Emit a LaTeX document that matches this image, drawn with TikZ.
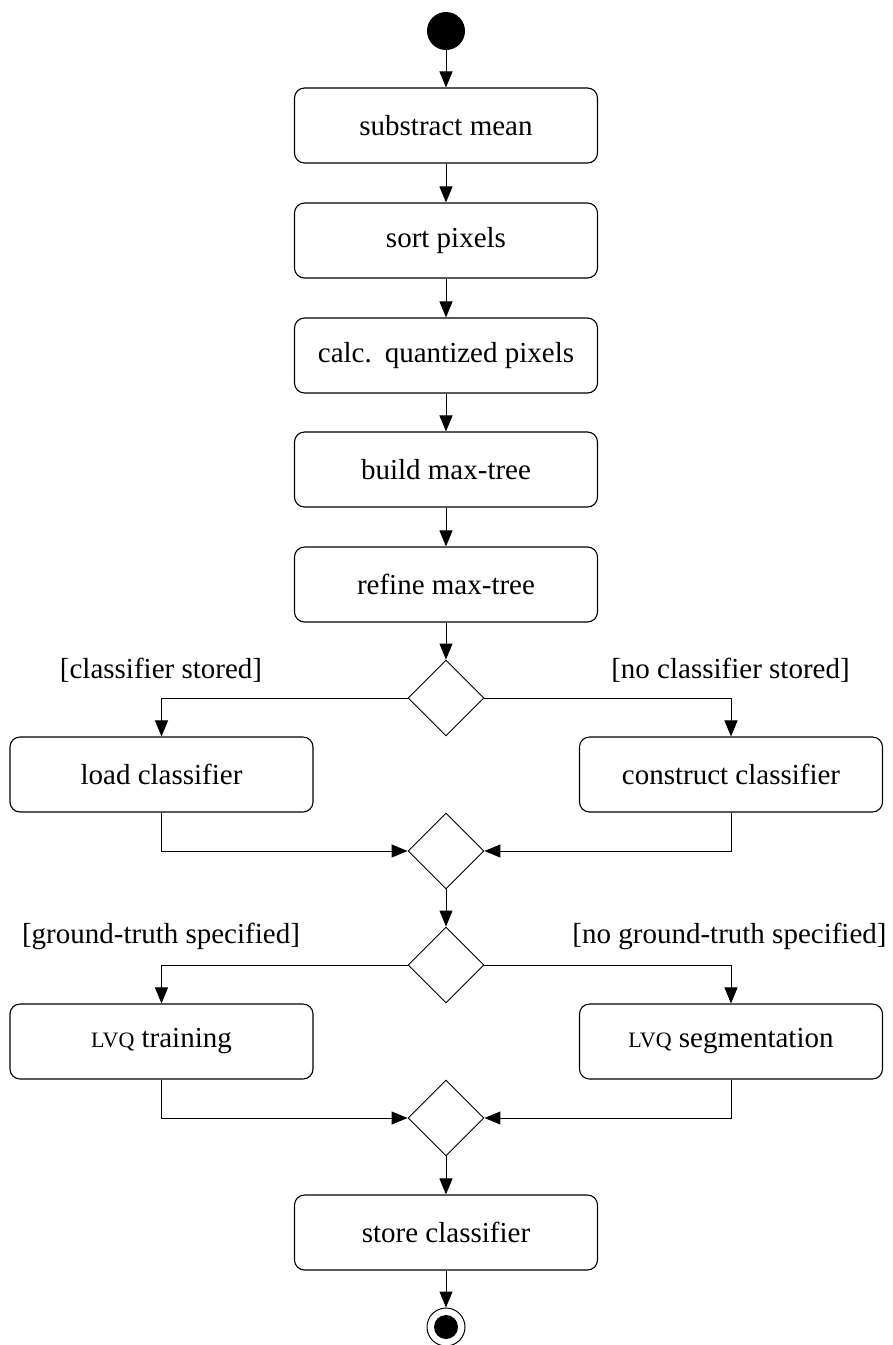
\documentclass[tikz,border=0pt]{standalone}
\usepackage{fontspec}
\setmainfont{Liberation Serif}
\usetikzlibrary{arrows.meta,shapes.geometric}
\newcommand{\lvqsc}{{\fontsize{22}{22}\selectfont LVQ}}
\begin{document}
\begin{tikzpicture}[x=1pt,y=-1pt,
  font=\fontsize{29}{34}\selectfont,
  act/.style={draw, rounded corners=10pt, minimum width=303pt, minimum height=75pt, line width=1.1pt, inner sep=0pt},
  dec/.style={draw, diamond, minimum width=76pt, minimum height=76pt, inner sep=0pt, line width=0.9pt},
  conn/.style={line width=1pt, -{Triangle[length=16pt,width=13pt]}},
  guard/.style={inner sep=0pt}]
\useasboundingbox (0,0) rectangle (893,1345);
\node[circle, fill, minimum size=38pt, inner sep=0pt] (start) at (446,31) {};
\node[act] (b1) at (446,125.5) {substract mean};
\node[act] (b2) at (446,240.5) {sort pixels};
\node[act] (b3) at (446,355.5) {calc.\hspace{0.45em}quantized pixels};
\node[act] (b4) at (446,469.5) {build max-tree};
\node[act] (b5) at (446,584.5) {refine max-tree};
\node[dec] (d1) at (446,698) {};
\node[act] (load) at (161.5,774.5) {load classifier};
\node[act] (cons) at (731,774.5) {construct classifier};
\node[dec] (d2) at (446,851) {};
\node[dec] (d3) at (446,965) {};
\node[act] (train) at (161.5,1041.5) {\lvqsc{} training};
\node[act] (seg) at (731,1041.5) {\lvqsc{} segmentation};
\node[dec] (d4) at (446,1118) {};
\node[act] (store) at (446,1232.5) {store classifier};
\node[circle, draw, line width=1pt, minimum size=38pt, inner sep=0pt] (end) at (446,1327) {};
\node[circle, fill, minimum size=24pt, inner sep=0pt] (endin) at (end) {};
\node[guard] (g1) at (161,670) {[classifier stored]};
\node[guard] (g2) at (730.5,670) {[no classifier stored]};
\node[guard] (g3) at (161,936) {[ground-truth specified]};
\node[guard] (g4) at (729.5,936) {[no ground-truth specified]};
\draw[conn] (start) -- (b1);
\draw[conn] (b1) -- (b2);
\draw[conn] (b2) -- (b3);
\draw[conn] (b3) -- (b4);
\draw[conn] (b4) -- (b5);
\draw[conn] (b5) -- (d1);
\draw[conn] (d1.west) -| (load.north);
\draw[conn] (d1.east) -| (cons.north);
\draw[conn] (load.south) |- (d2.west);
\draw[conn] (cons.south) |- (d2.east);
\draw[conn] (d2) -- (d3);
\draw[conn] (d3.west) -| (train.north);
\draw[conn] (d3.east) -| (seg.north);
\draw[conn] (train.south) |- (d4.west);
\draw[conn] (seg.south) |- (d4.east);
\draw[conn] (d4) -- (store);
\draw[conn] (store) -- (end);
\end{tikzpicture}
\end{document}
